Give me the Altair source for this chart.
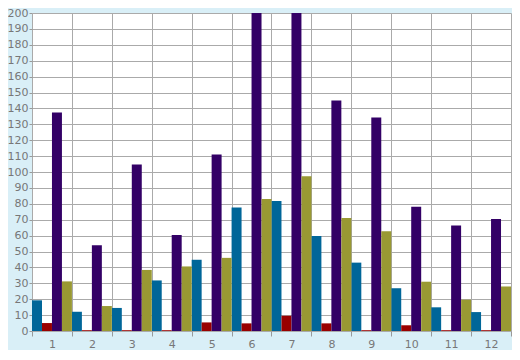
import altair as alt
import pandas as pd

groups = [str(i) for i in range(1, 13)]
series_order = ["blue", "red", "purple", "olive"]
series_colors = ["#006699", "#990000", "#330066", "#999933"]

blue = [19.3, 12.1, 14.5, 31.8, 44.8, 77.6, 81.8, 59.7, 43.0, 26.9, 14.9, 11.9]
red = [5.0, 0.5, 0.5, 0.5, 5.4, 4.8, 9.6, 4.8, 0.5, 3.6, 0.5, 0.5]
purple = [137.5, 53.9, 104.7, 60.3, 111.0, 212.0, 228.0, 145.0, 134.3, 78.2, 66.3, 70.4]
olive = [31.2, 15.7, 38.4, 40.6, 46.0, 83.0, 97.3, 71.0, 62.7, 31.0, 19.7, 28.0]

rows = []
for name, vals in zip(series_order, [blue, red, purple, olive]):
    for g, v in zip(groups, vals):
        rows.append({"group": g, "series": name, "value": v})
df = pd.DataFrame(rows)

chart = (
    alt.Chart(df)
    .mark_bar(clip=True)
    .encode(
        x=alt.X(
            "group:N",
            sort=groups,
            scale=alt.Scale(paddingInner=0, paddingOuter=0),
            axis=alt.Axis(
                title=None,
                labelAngle=0,
                tickBand="extent",
                domain=False,
                grid=True,
                gridColor="#aaaaaa",
                tickColor="#999999",
                tickSize=5,
                labelPadding=2,
                labelColor="#777777",
                labelFont="DejaVu Sans",
                labelFontSize=11,
            ),
        ),
        xOffset=alt.XOffset(
            "series:N",
            sort=series_order,
            scale=alt.Scale(paddingInner=0, paddingOuter=0),
        ),
        y=alt.Y(
            "value:Q",
            scale=alt.Scale(domain=[0, 200], nice=False),
            axis=alt.Axis(
                title=None,
                values=list(range(0, 201, 10)),
                domain=False,
                grid=True,
                gridColor="#aaaaaa",
                tickColor="#999999",
                tickSize=3,
                labelPadding=1,
                labelColor="#777777",
                labelFont="DejaVu Sans",
                labelFontSize=11,
            ),
        ),
        color=alt.Color(
            "series:N",
            sort=series_order,
            scale=alt.Scale(domain=series_order, range=series_colors),
            legend=None,
        ),
    )
    .properties(
        width=479,
        height=318,
        autosize=alt.AutoSizeParams(type="none"),
        padding={"left": 24, "top": 5, "right": 1, "bottom": 19},
        background="#d9eff7",
    )
    .configure_view(stroke=None, fill="white")
)

chart.save("out.html", embed_options={"renderer": "svg", "actions": False})
